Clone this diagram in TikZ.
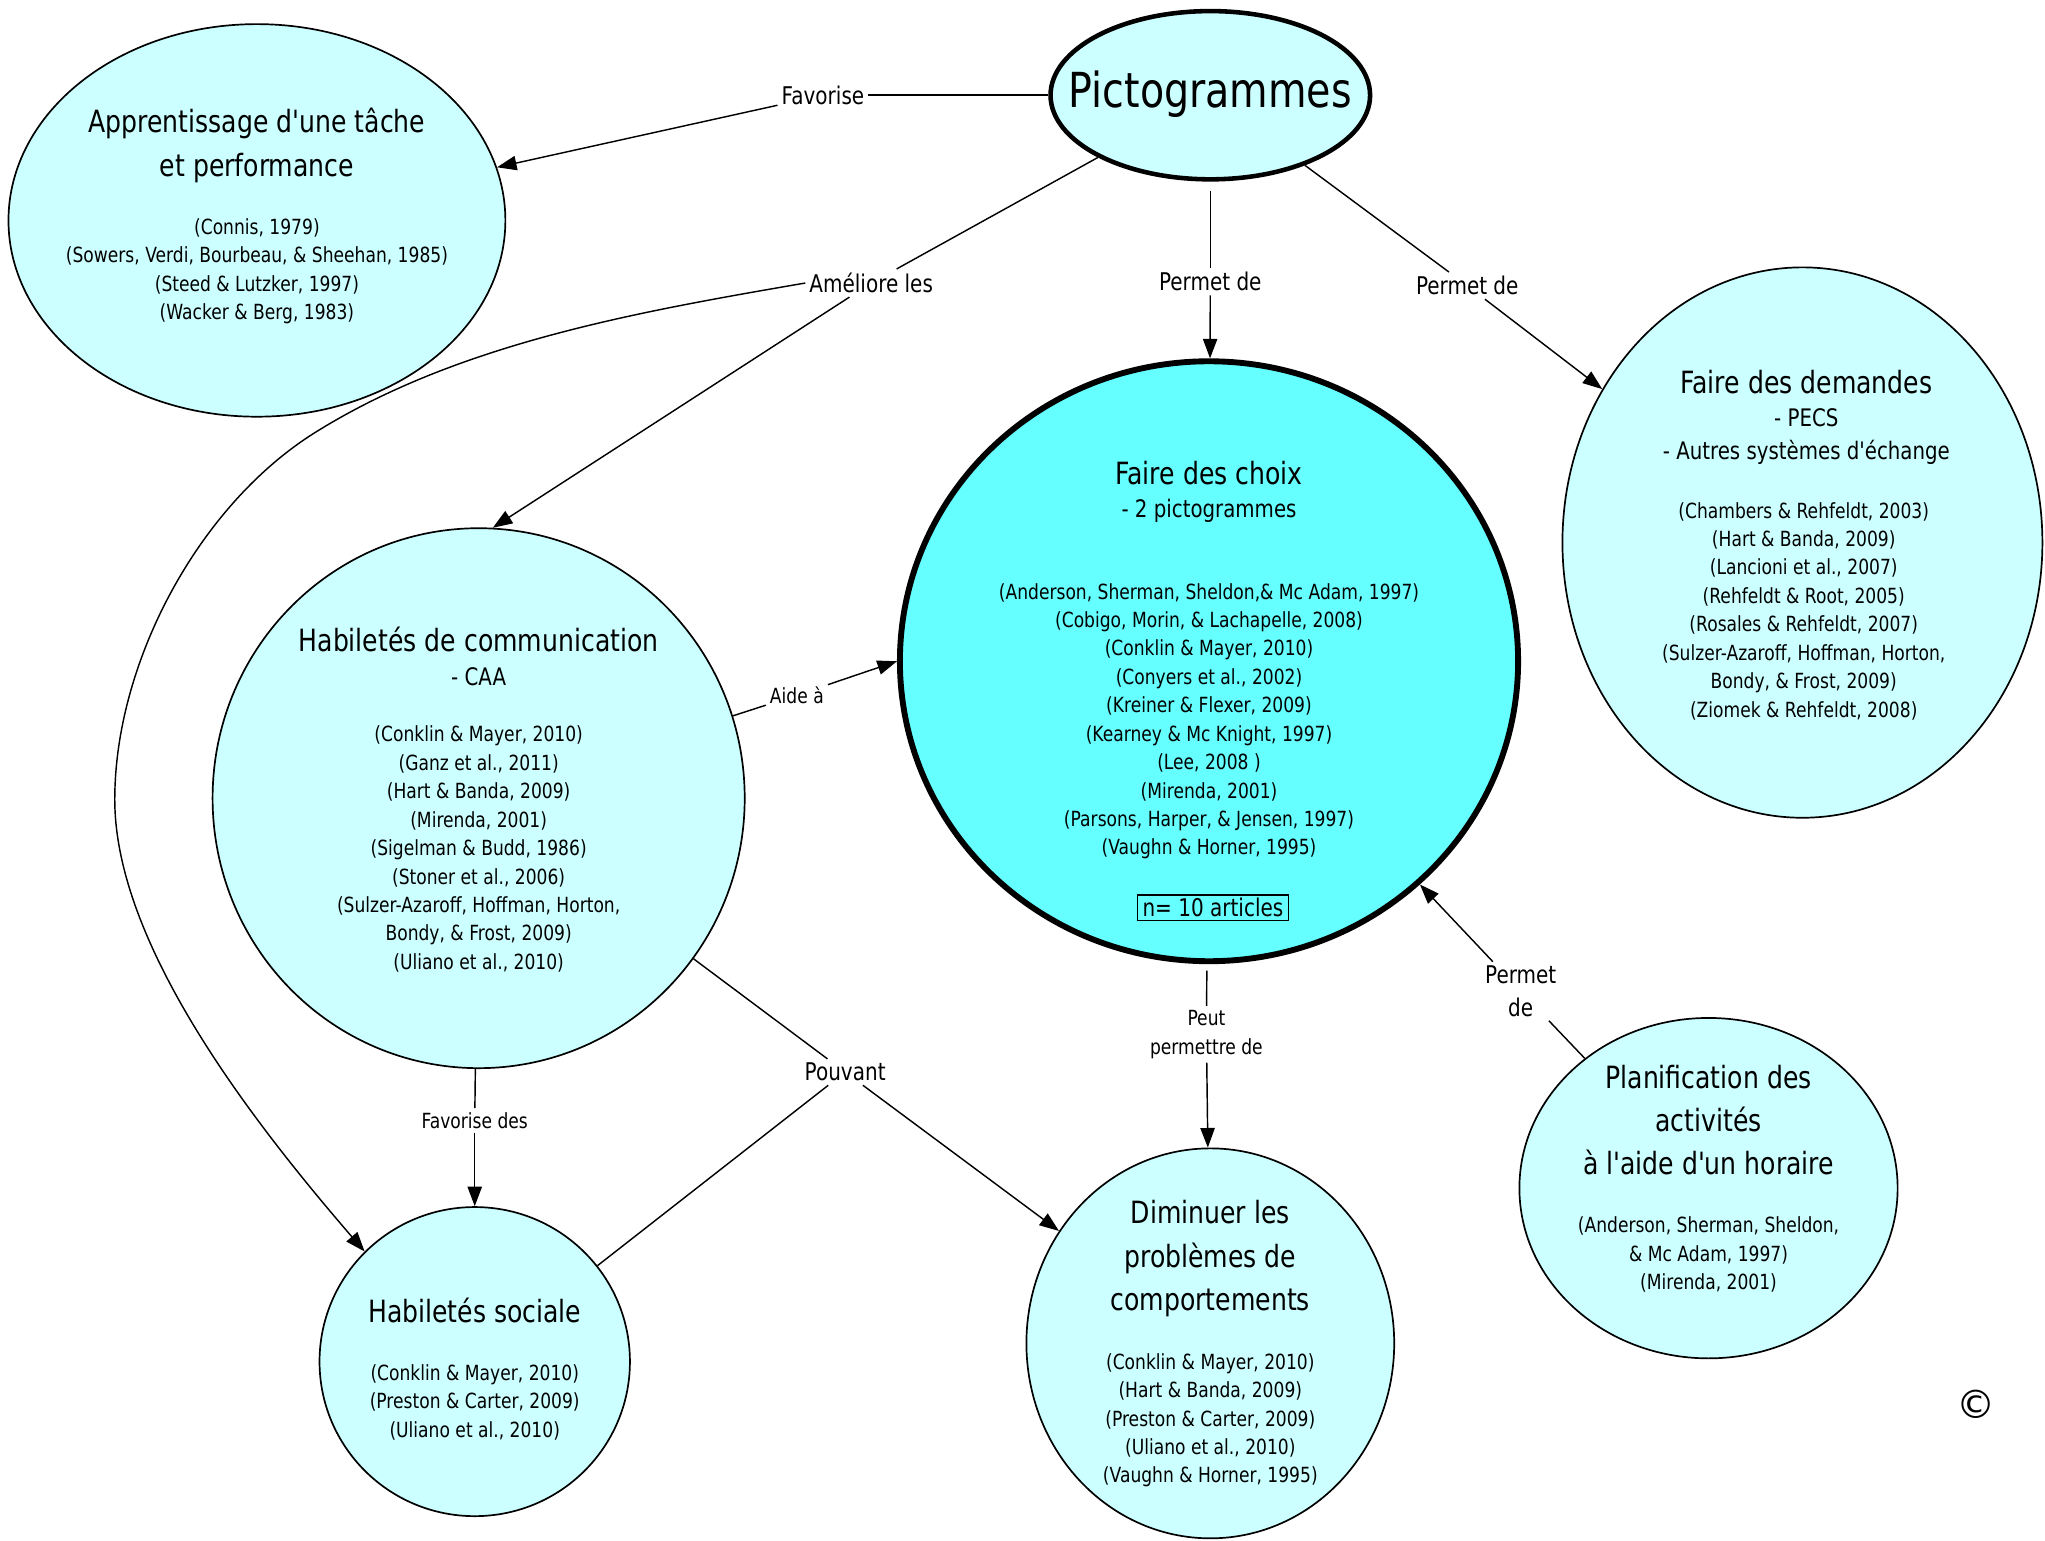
\documentclass[tikz,border=0pt]{standalone}
\usepackage{fontspec}
\setmainfont{DejaVu Sans}[FakeStretch=0.82,Ligatures=TeXOff]
\newfontfamily\plainfont{DejaVu Sans}
\usetikzlibrary{shapes.geometric,arrows.meta}
\definecolor{lc}{HTML}{CCFFFF}
\definecolor{dc}{HTML}{66FFFF}
\newcommand\fsz[2]{\fontsize{#1}{#2}\selectfont}
\begin{document}
\begin{tikzpicture}[x=1pt,y=-1pt,
  bub/.style={ellipse,draw,fill=lc,line width=1.3pt,inner sep=0pt},
  txt/.style={inner sep=0pt,align=center},
  ttl/.style={txt,font=\fsz{23.5}{33}},
  sub/.style={txt,font=\fsz{18.5}{25}},
  cit/.style={txt,font=\fsz{16}{21.8}},
  lab/.style={align=center,inner sep=3pt,font=\fsz{18.7}{25}},
  labs/.style={align=center,inner sep=3pt,font=\fsz{16}{22}},
  con/.style={line width=1.1pt},
  arr/.style={con,-{Triangle[length=15pt,width=11pt]}}
]
\fill[white] (0,0) rectangle (1568,1181);
\useasboundingbox (0,0) rectangle (1568,1181);

% Pictogrammes
\node[bub,line width=3.5pt,minimum width=245pt,minimum height=129pt] (picto) at (928,73) {};
\node[txt,font=\fsz{37}{40}] (pictoT) at (928,72) {Pictogrammes};

% Apprentissage
\node[bub,minimum width=381pt,minimum height=301pt] (appr) at (197,169) {};
\node[ttl] (apprT) at (197,111.5) {Apprentissage d'une tâche\\et performance};
\node[cit] (apprC) at (197,208) {(Connis, 1979)\\(Sowers, Verdi, Bourbeau, \& Sheehan, 1985)\\(Steed \& Lutzker, 1997)\\(Wacker \& Berg, 1983)};

% Faire des choix
\node[bub,fill=dc,line width=4.5pt,minimum width=474pt,minimum height=460pt] (fdc) at (927,507) {};
\node[ttl] (fdcT) at (927,363) {Faire des choix};
\node[sub] (fdcS) at (927,392) {- 2 pictogrammes};
\node[cit] (fdcC) at (927,553) {(Anderson, Sherman, Sheldon,\& Mc Adam, 1997)\\(Cobigo, Morin, \& Lachapelle, 2008)\\(Conklin \& Mayer, 2010)\\(Conyers et al., 2002)\\(Kreiner \& Flexer, 2009)\\(Kearney \& Mc Knight, 1997)\\(Lee, 2008 )\\(Mirenda, 2001)\\(Parsons, Harper, \& Jensen, 1997)\\(Vaughn \& Horner, 1995)};
\node[draw,line width=1pt,font=\fsz{18.7}{22},inner xsep=4pt,inner ysep=2.5pt] (nart) at (930,696) {n= 10 articles};

% Faire des demandes
\node[bub,minimum width=368pt,minimum height=422pt] (fdd) at (1382,416) {};
\node[ttl] (fddT) at (1385,293) {Faire des demandes};
\node[sub] (fddS) at (1385,334.5) {- PECS\\- Autres systèmes d'échange};
\node[cit] (fddC) at (1383,468.5) {(Chambers \& Rehfeldt, 2003)\\(Hart \& Banda, 2009)\\(Lancioni et al., 2007)\\(Rehfeldt \& Root, 2005)\\(Rosales \& Rehfeldt, 2007)\\(Sulzer-Azaroff, Hoffman, Horton,\\Bondy, \& Frost, 2009)\\(Ziomek \& Rehfeldt, 2008)};

% Habiletes de communication
\node[bub,minimum width=408pt,minimum height=414pt] (hcom) at (367,612) {};
\node[ttl] (hcomT) at (367,490) {Habiletés de communication};
\node[sub] (hcomS) at (367,519) {- CAA};
\node[cit] (hcomC) at (367,651) {(Conklin \& Mayer, 2010)\\(Ganz et al., 2011)\\(Hart \& Banda, 2009)\\(Mirenda, 2001)\\(Sigelman \& Budd, 1986)\\(Stoner et al., 2006)\\(Sulzer-Azaroff, Hoffman, Horton,\\Bondy, \& Frost, 2009)\\(Uliano et al., 2010)};

% Habiletes sociale
\node[bub,minimum width=238pt,minimum height=237pt] (soc) at (364,1044) {};
\node[ttl] (socT) at (364,1005) {Habiletés sociale};
\node[cit] (socC) at (364,1075) {(Conklin \& Mayer, 2010)\\(Preston \& Carter, 2009)\\(Uliano et al., 2010)};

% Diminuer
\node[bub,minimum width=282pt,minimum height=299pt] (dim) at (928,1030) {};
\node[ttl] (dimT) at (928,965) {Diminuer les\\problèmes de\\comportements};
\node[cit] (dimC) at (928,1089) {(Conklin \& Mayer, 2010)\\(Hart \& Banda, 2009)\\(Preston \& Carter, 2009)\\(Uliano et al., 2010)\\(Vaughn \& Horner, 1995)};

% Planification
\node[bub,minimum width=290pt,minimum height=261pt] (plan) at (1310,911) {};
\node[ttl] (planT) at (1310,858.5) {Planification des\\activités\\à l'aide d'un horaire};
\node[cit] (planC) at (1310,962) {(Anderson, Sherman, Sheldon,\\\& Mc Adam, 1997)\\(Mirenda, 2001)};

% copyright
\node[inner sep=0pt,font=\plainfont\fsz{30}{30}] (copy) at (1515,1077) {©};

% labels
\node[lab] (lfav) at (631,73) {Favorise};
\node[lab] (lame) at (668,217) {Améliore les};
\node[lab] (lpm1) at (928,216) {Permet de};
\node[lab] (lpm2) at (1125,219) {Permet de};
\node[labs] (laide) at (611,533) {Aide à};
\node[lab] (lpou) at (648,822) {Pouvant};
\node[labs] (lfd) at (364,859) {Favorise des};
\node[labs] (lpeut) at (925,793) {Peut\\permettre de};
\node[lab] (lpm3) at (1166,760) {Permet\\de};
\coordinate (via1) at (241,332);
\coordinate (via2) at (88,613);

% connectors
\draw[con] (picto) -- (lfav);
\draw[arr] (lfav) -- (appr);
\draw[con] (picto) -- (lame);
\draw[arr] (lame) -- (hcom.87);
\draw[arr] (lame.west) .. controls (490,239) and (351,263) .. (via1)
  .. controls (152,388) and (88,508) .. (via2)
  .. controls (88,723) and (191,857) .. (soc.135);
\draw[con,shorten <=7pt] (picto) -- (lpm1);
\draw[arr] (lpm1) -- (fdc);
\draw[con] (picto) -- (lpm2);
\draw[arr] (lpm2) -- (fdd);
\draw[con] (hcom) -- (laide);
\draw[arr] (laide) -- (fdc.west);
\draw[con] (hcom) -- (lpou);
\draw[con] (lpou) -- (soc);
\draw[arr] (lpou) -- (dim);
\draw[con] (hcom) -- (lfd);
\draw[arr] (lfd) -- (soc);
\draw[con,shorten <=5pt] (fdc) -- (lpeut);
\draw[arr] (lpeut) -- (dim);
\draw[con] (plan) -- (lpm3);
\draw[arr] (lpm3) -- (fdc);
\end{tikzpicture}
\end{document}
